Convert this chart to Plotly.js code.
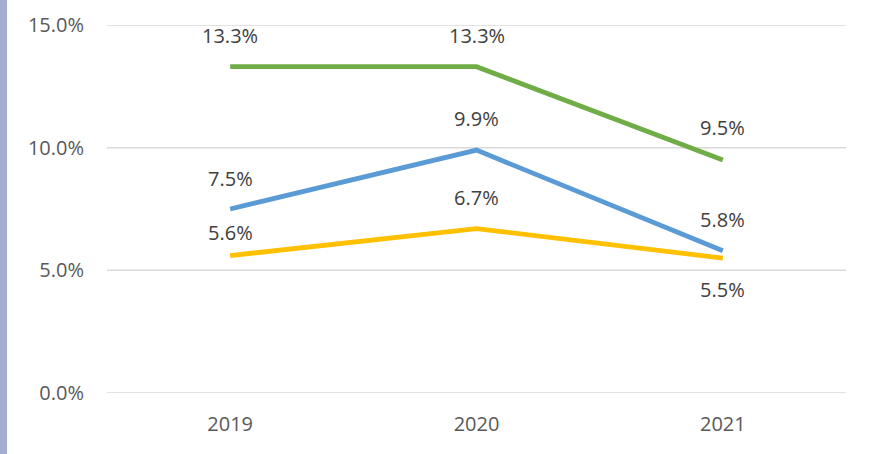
<!DOCTYPE html>
<html><head><meta charset="utf-8">
<script src="https://cdn.plot.ly/plotly-3.0.1.min.js"></script>
<style>body{margin:0;padding:0;background:#fff}#c{width:872px;height:454px}</style>
</head><body><div id="c"></div>
<script>
const years = ['2019', '2020', '2021'];
const greenVals = [13.3, 13.3, 9.5];
const blueVals = [7.5, 9.9, 5.8];
const yellowVals = [5.6, 6.7, 5.5];
const yTicks = [0, 5, 10, 15];
const yTickText = ['0.0%', '5.0%', '10.0%', '15.0%'];

const FONT = 'Open Sans';
const series = [
  {vals: greenVals, color: '#70ad47', shifts: [31, 31, 32]},
  {vals: blueVals, color: '#5b9bd5', shifts: [31, 32, 31]},
  {vals: yellowVals, color: '#ffc000', shifts: [23, 31, -31]}
];
const traces = series.map(s => ({
  x: years, y: s.vals, type: 'scatter', mode: 'lines',
  line: {color: s.color, width: 4.8},
  hoverinfo: 'skip'
}));
const annotations = [];
series.forEach(s => s.vals.forEach((v, i) => annotations.push({
  x: i, y: v, xref: 'x', yref: 'y', text: v.toFixed(1) + '%',
  showarrow: false, yshift: s.shifts[i],
  font: {family: FONT, size: 20, color: '#404040'}
})));
const shapes = yTicks.map(t => ({type: 'line', xref: 'paper', yref: 'y',
  x0: 0, x1: 1, y0: t, y1: t, line: {color: '#d9d9d9', width: 1.5}, layer: 'below'}));
shapes.push({type: 'rect', xref: 'paper', yref: 'paper',
  x0: -107/739, x1: -100/739, y0: -61/368, y1: 1 + 25/368,
  fillcolor: '#a4aed4', line: {width: 0}, layer: 'below'});
const layout = {
  width: 872, height: 454,
  margin: {l: 107, r: 26, t: 25, b: 61},
  paper_bgcolor: '#fff', plot_bgcolor: '#fff',
  showlegend: false,
  xaxis: {type: 'category', range: [-0.5, 2.5], showgrid: false, zeroline: false,
    showline: false, ticks: '', ticklabelstandoff: 17,
    tickfont: {family: FONT, size: 20, color: '#595959'}},
  yaxis: {range: [0, 15], tickvals: yTicks, ticktext: yTickText, showgrid: false,
    zeroline: false, showline: false, ticks: '', ticklabelstandoff: 22,
    tickfont: {family: FONT, size: 20, color: '#595959'}},
  annotations: annotations,
  shapes: shapes
};
Plotly.newPlot('c', traces, layout, {displayModeBar: false});
</script></body></html>
